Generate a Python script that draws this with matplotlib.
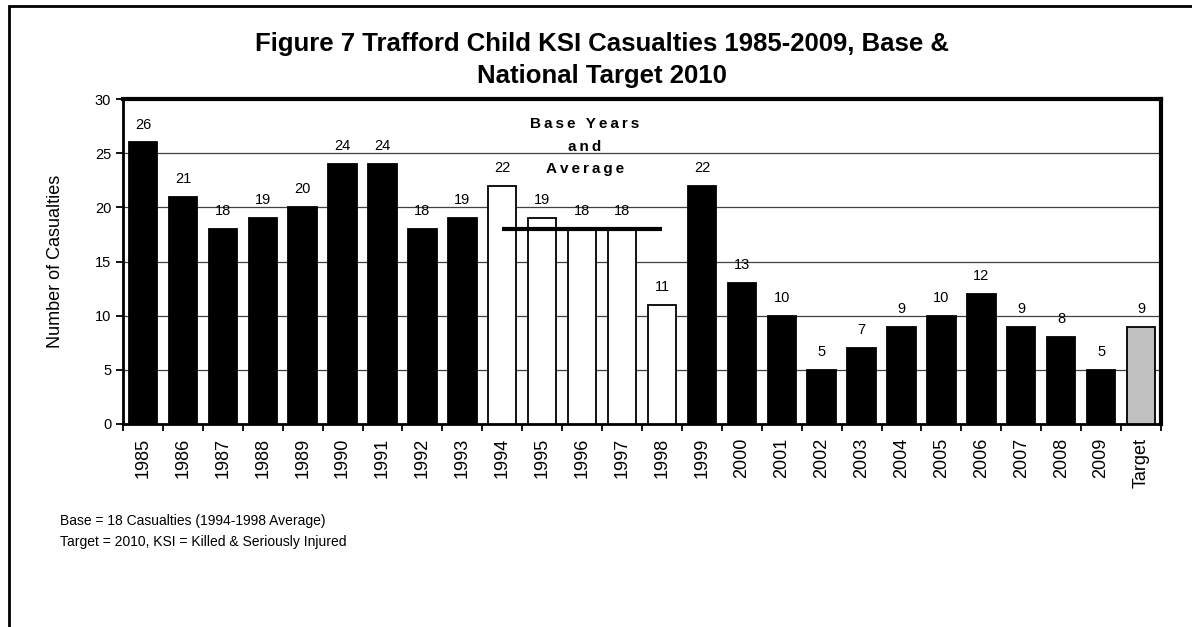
import matplotlib
matplotlib.use('Agg')
from matplotlib import pyplot as plt
from matplotlib.patches import Rectangle
import numpy as np

plt.rcParams['font.family'] = ['Liberation Sans', 'DejaVu Sans']

years = [str(y) for y in range(1985, 2010)] + ['Target']
casualties = [26, 21, 18, 19, 20, 24, 24, 18, 19, 22, 19, 18, 18, 11,
              22, 13, 10, 5, 7, 9, 10, 12, 9, 8, 5, 9]
base_years = ['1994', '1995', '1996', '1997', '1998']
base_average = 18


def spaced(s):
    # loose letter spacing for the annotation
    return '\u2009'.join(s)


def main():
    fig = plt.figure(figsize=(11.92, 6.27), dpi=100)
    ax = fig.add_axes([0.1032, 0.3238, 0.8708, 0.5182])

    x = np.arange(len(years))
    colors = []
    for yr in years:
        if yr == 'Target':
            colors.append('#c0c0c0')
        elif yr in base_years:
            colors.append('white')
        else:
            colors.append('black')

    ax.bar(x, casualties, width=0.71, color=colors, edgecolor='black',
           linewidth=1.3, zorder=3)

    for xi, v in zip(x, casualties):
        ax.text(xi, v + 1.65, str(v), ha='center', va='center', fontsize=10.5)

    # base average line from first to last base year
    i0 = years.index(base_years[0])
    i1 = years.index(base_years[-1])
    ax.plot([i0, i1], [base_average, base_average], color='black',
            linewidth=3, zorder=4, solid_capstyle='butt')

    label = '\n'.join(spaced(w) for w in ['Base Years', 'and', 'Average'])
    ax.text(i0 + 2.07, 25.6, label, ha='center', va='center', fontsize=11,
            fontweight='bold', linespacing=1.75)

    ax.set_xlim(-0.5, len(years) - 0.5)
    ax.set_ylim(0, 30)
    ax.set_yticks(range(0, 31, 5))
    ax.yaxis.grid(True, color='#404040', linewidth=0.9, zorder=0)
    ax.set_axisbelow(True)

    ax.set_xticks(x)
    ax.set_xticklabels(years, rotation=90, fontsize=13)
    ax.set_xticks(np.arange(-0.5, len(years), 1), minor=True)
    ax.tick_params(axis='x', which='major', length=0, pad=10)
    ax.tick_params(axis='x', which='minor', length=5, width=1.3, direction='out')
    ax.tick_params(axis='y', length=5, width=1.3, direction='out', labelsize=10.5)

    ax.spines['top'].set_linewidth(3)
    ax.spines['right'].set_linewidth(3)
    ax.spines['left'].set_linewidth(2)
    ax.spines['bottom'].set_linewidth(2)

    ax.set_ylabel('Number of Casualties', fontsize=13, labelpad=22)

    fig.text(0.505, 0.904,
             'Figure 7 Trafford Child KSI Casualties 1985-2009, Base &\nNational Target 2010',
             ha='center', va='center', fontsize=18.5, fontweight='bold',
             linespacing=1.4)

    fig.text(0.05, 0.169, 'Base = 18 Casualties (1994-1998 Average)', fontsize=10,
             va='center')
    fig.text(0.05, 0.136, 'Target = 2010, KSI = Killed & Seriously Injured', fontsize=10,
             va='center')

    # outer chart frame
    fig.patches.append(Rectangle((9 / 1192, -0.1), 1.2, 1 - 6 / 627 + 0.1,
                                 transform=fig.transFigure, fill=False,
                                 edgecolor='black', linewidth=2))

    fig.savefig('out.png', dpi=100)


if __name__ == '__main__':
    main()
